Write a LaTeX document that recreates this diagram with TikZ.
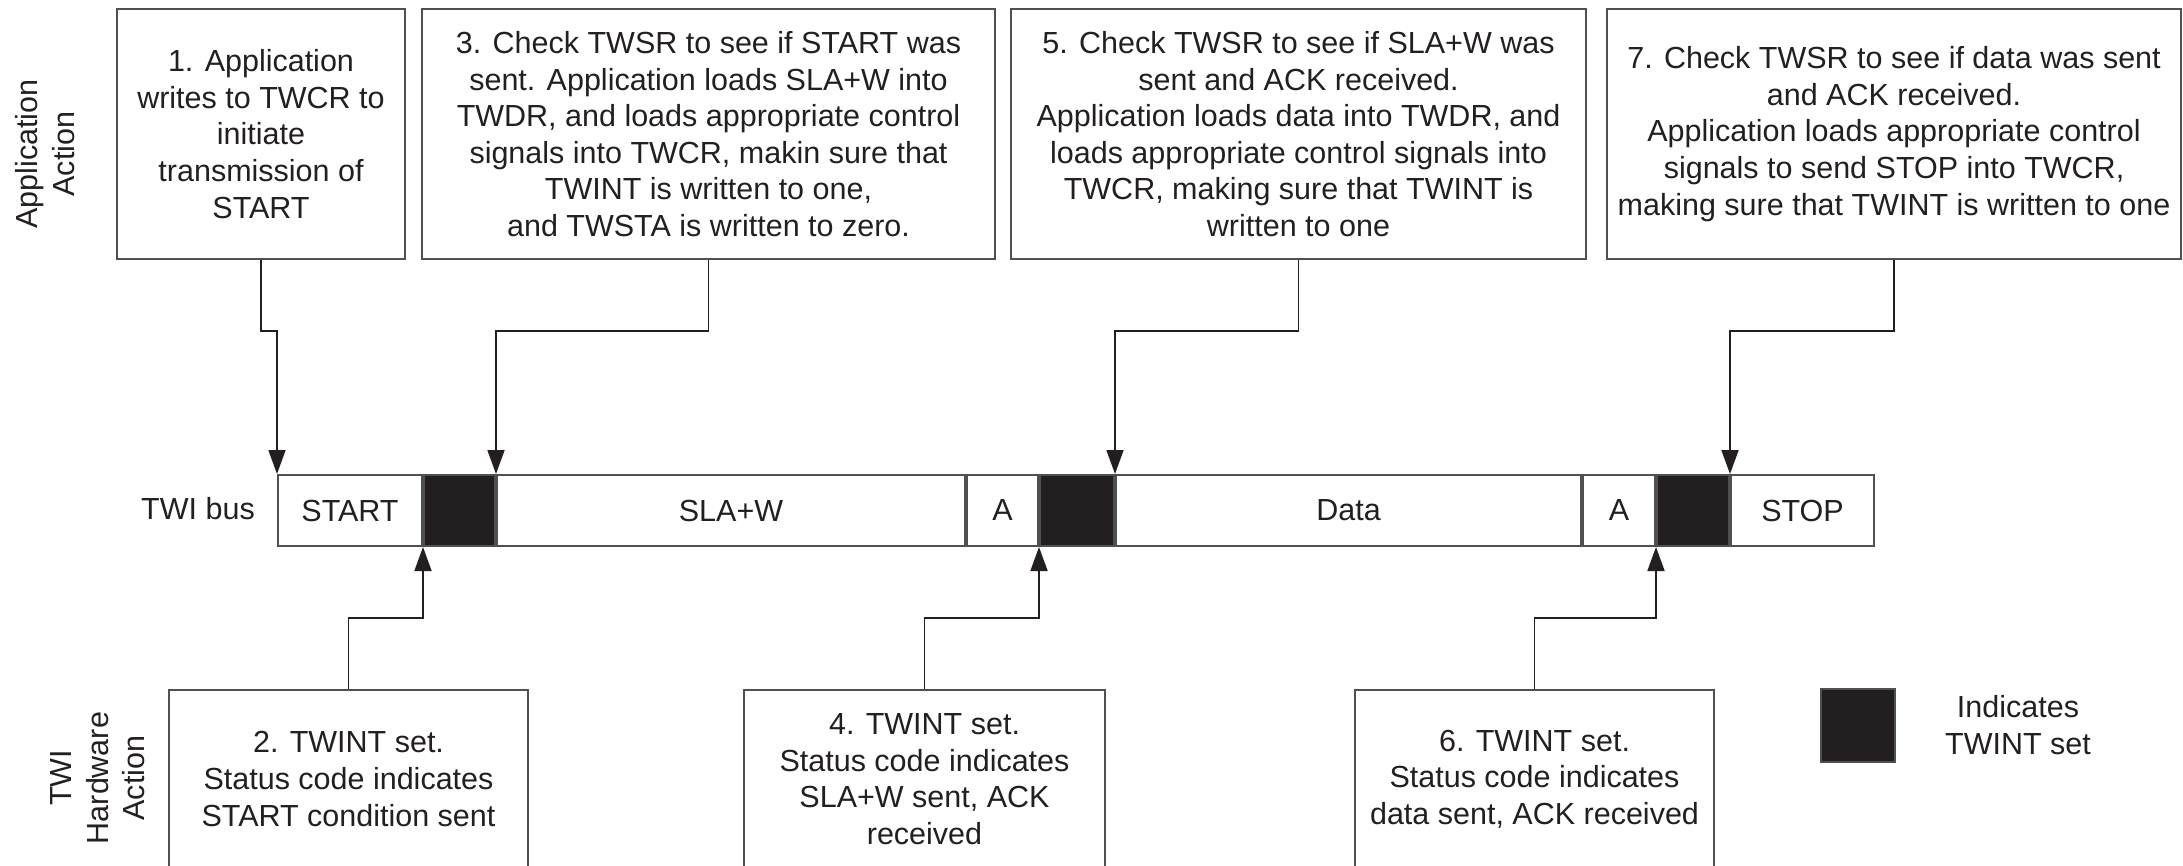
\documentclass[tikz,border=0pt]{standalone}
\usepackage{fontspec}
\setmainfont{Liberation Sans}
\usetikzlibrary{arrows.meta}
\definecolor{ink}{HTML}{231F20}
\definecolor{edge}{HTML}{505050}

\begin{document}
\begin{tikzpicture}[x=0.5pt,y=-0.5pt,
  font=\fontsize{15.25}{18.3}\selectfont, text=ink,
  actbox/.style={draw=edge, line width=1pt, align=center, inner sep=0pt, minimum height=125pt},
  hwbox/.style={draw=edge, line width=1pt, align=center, inner sep=0pt, minimum height=89pt},
  seg/.style={draw=edge, line width=1pt, inner sep=0pt, minimum height=35.5pt, anchor=west},
  twint/.style={seg, fill=ink},
  conn/.style={draw=ink, line width=0.9pt, -{Triangle[length=12pt,width=8.5pt]}},
  side/.style={rotate=90, align=center}
]
\useasboundingbox (0,0) rectangle (2183,866);
\clip (0,0) rectangle (2183,866);

% row labels
\node[side] (appl) at (45,154) {Application\\Action};
\node[side] (hwl) at (98,778) {TWI\\Hardware\\Action};
\node (buslbl) at (198,509) {TWI bus};

% application actions
\node[actbox, minimum width=144pt] (b1) at (261,134)
  {1. Application\\writes to TWCR to\\initiate\\transmission of\\START};
\node[actbox, minimum width=286.5pt] (b3) at (708.5,134)
  {3. Check TWSR to see if START was\\sent. Application loads SLA+W into\\TWDR, and loads appropriate control\\signals into TWCR, makin sure that\\TWINT is written to one,\\and TWSTA is written to zero.};
\node[actbox, minimum width=287.5pt] (b5) at (1298.5,134)
  {5. Check TWSR to see if SLA+W was\\sent and ACK received.\\Application loads data into TWDR, and\\loads appropriate control signals into\\TWCR, making sure that TWINT is\\written to one};
\node[actbox, minimum width=287pt] (b7) at (1894,134)
  {7. Check TWSR to see if data was sent\\and ACK received.\\Application loads appropriate control\\signals to send STOP into TWCR,\\making sure that TWINT is written to one};

% the bus sequence
\node[seg, minimum width=72pt] (sStart) at (277,510.5) {START};
\node[twint, minimum width=35.5pt] (k1) at (sStart.east) {};
\node[seg, minimum width=234pt] (sSla) at (k1.east) {SLA+W};
\node[seg, minimum width=35.5pt] (a1) at (sSla.east) {A};
\node[twint, minimum width=37pt] (k2) at (a1.east) {};
\node[seg, minimum width=232.5pt] (sData) at (k2.east) {Data};
\node[seg, minimum width=36pt] (a2) at (sData.east) {A};
\node[twint, minimum width=36pt] (k3) at (a2.east) {};
\node[seg, minimum width=71.5pt] (sStop) at (k3.east) {STOP};

% hardware actions
\node[hwbox, minimum width=179.5pt] (b2) at (348.5,779)
  {2. TWINT set.\\Status code indicates\\START condition sent};
\node[hwbox, minimum width=180.5pt] (b4) at (924.5,779)
  {4. TWINT set.\\Status code indicates\\SLA+W sent, ACK\\received};
\node[hwbox, minimum width=179.5pt] (b6) at (1534.5,779)
  {6. TWINT set.\\Status code indicates\\data sent, ACK received};

% legend
\node[draw=edge, fill=ink, line width=0.6pt, inner sep=0pt, minimum width=37pt, minimum height=36.5pt] (key) at (1858,725.5) {};
\node[align=center] (keytxt) at (2018,725) {Indicates\\TWINT set};

% connectors
\coordinate (jt) at (0,331);
\coordinate (jb) at (0,618);
\draw[conn] (b1.south) -- (b1.south |- jt) -- (sStart.north west |- jt) -- (sStart.north west);
\draw[conn] (b3.south) -- (b3.south |- jt) -- (k1.north east |- jt) -- (k1.north east);
\draw[conn] (b5.south) -- (b5.south |- jt) -- (k2.north east |- jt) -- (k2.north east);
\draw[conn] (b7.south) -- (b7.south |- jt) -- (k3.north east |- jt) -- (k3.north east);
\draw[conn] (b2.north) -- (b2.north |- jb) -- (k1.south west |- jb) -- (k1.south west);
\draw[conn] (b4.north) -- (b4.north |- jb) -- (k2.south west |- jb) -- (k2.south west);
\draw[conn] (b6.north) -- (b6.north |- jb) -- (k3.south west |- jb) -- (k3.south west);
\end{tikzpicture}
\end{document}
